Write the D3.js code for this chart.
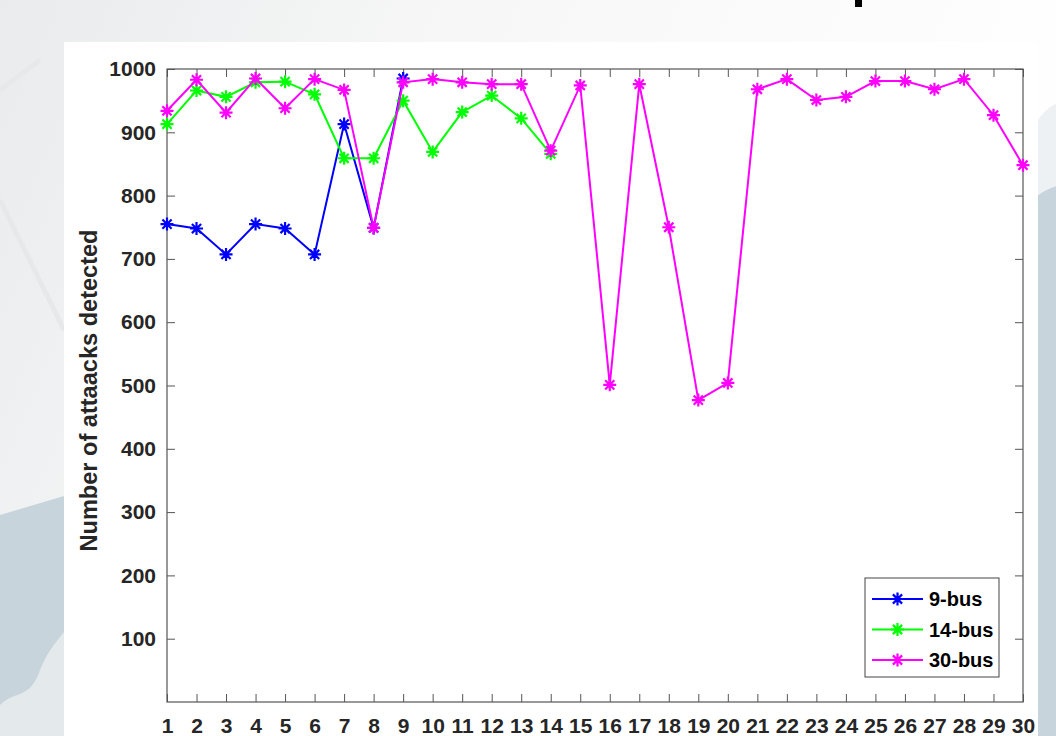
<html>
<head>
    <meta charset="utf-8">
    <script src="https://d3js.org/d3.v7.min.js"></script>
    <title>Attacks detected</title>
    <style>
        body { margin: 0; overflow: hidden; }
        text { font-family: "Liberation Sans", Arial, sans-serif; }
        .axis .domain { stroke: none; }
        .axis line { stroke: #555; }
        .axis text { font-weight: bold; fill: #262626; }
    </style>
</head>
<body>
<svg id="svg1"></svg>
<script>
    // data
    const runs = [1, 2, 3, 4, 5, 6, 7, 8, 9, 10, 11, 12, 13, 14, 15,
                  16, 17, 18, 19, 20, 21, 22, 23, 24, 25, 26, 27, 28, 29, 30];
    const yTicks = [100, 200, 300, 400, 500, 600, 700, 800, 900, 1000];
    const seriesNames = ["9-bus", "14-bus", "30-bus"];
    const seriesColors = ["#0000ff", "#00ff00", "#ff00ff"];
    const bus9 = [755, 748, 707, 755, 748, 707, 913, 749, 985];
    const bus14 = [913, 966, 956, 979, 980, 960, 859, 859, 950, 869, 932, 958, 922, 866];
    const bus30 = [934, 983, 931, 985, 938, 984, 967, 749, 979, 984, 979, 976, 976, 871, 974,
                   501, 976, 750, 477, 504, 968, 984, 951, 956, 981, 981, 968, 984, 927, 848];
    const yLabel = "Number of attaacks detected";

    const width = 1056, height = 736;
    let svg1 = d3.select("svg#svg1")
                 .attr("width", width)
                 .attr("height", height);

    // slide background
    let defs = svg1.append("defs");
    let grad = defs.append("linearGradient").attr("id", "bgGrad")
                   .attr("x1", 0).attr("y1", 0).attr("x2", 1).attr("y2", 0.3);
    grad.append("stop").attr("offset", "0%").attr("stop-color", "#e9ebec");
    grad.append("stop").attr("offset", "40%").attr("stop-color", "#f7f7f7");
    grad.append("stop").attr("offset", "100%").attr("stop-color", "#ffffff");

    let bg = svg1.append("g").attr("id", "background");
    bg.append("rect").attr("width", width).attr("height", height).attr("fill", "url(#bgGrad)");
    bg.append("path").attr("d", "M0,200 L64,330 M0,90 L40,60")
      .attr("stroke", "#e6e8ea").attr("stroke-width", 5).attr("fill", "none");
    bg.append("path").attr("d", "M0,515 L64,496 L64,736 L0,736 Z").attr("fill", "#c8d4dc");
    bg.append("path").attr("d", "M0,705 C15,690 30,700 40,670 C48,650 58,640 64,632 L64,736 L0,736 Z")
      .attr("fill", "#e4e9ec");
    bg.append("path").attr("d", "M1038,195 C1045,190 1050,188 1056,186 L1056,736 L1038,736 Z")
      .attr("fill", "#c8d4dc");
    bg.append("path").attr("d", "M1038,120 C1045,110 1052,105 1056,104 L1056,186 C1050,188 1045,190 1038,195 Z")
      .attr("fill", "#eef1f3");
    // white panel of the figure
    bg.append("rect").attr("x", 64).attr("y", 42).attr("width", 974).attr("height", 694)
      .attr("fill", "#ffffff");
    // descender of the cut-off title above the figure
    bg.append("rect").attr("x", 855).attr("y", 0).attr("width", 7).attr("height", 7).attr("fill", "#000");

    const margins = {top: 69, right: 33, bottom: 34, left: 167};
    const chartWidth = width - margins.left - margins.right;
    const chartHeight = height - margins.top - margins.bottom;

    const scaleX = d3.scaleLinear().domain([1, 30]).range([0, chartWidth]);
    const scaleY = d3.scaleLinear().domain([0, 1000]).range([chartHeight, 0]);

    let annotations = svg1.append("g").attr("id", "annotations")
                          .attr("transform", `translate(${margins.left}, ${margins.top})`);

    // axes with inward ticks (box on)
    annotations.append("g").attr("class", "y axis")
               .call(d3.axisLeft(scaleY).tickValues(yTicks).tickSizeInner(-8).tickSizeOuter(0)
                       .tickPadding(11).tickFormat(d3.format("d")))
               .selectAll("text").style("font-size", "21px");
    annotations.append("g").attr("class", "y axis")
               .attr("transform", `translate(${chartWidth}, 0)`)
               .call(d3.axisRight(scaleY).tickValues(yTicks).tickSizeInner(-8).tickSizeOuter(0).tickFormat(""));
    annotations.append("g").attr("class", "x axis")
               .attr("transform", `translate(0, ${chartHeight})`)
               .call(d3.axisBottom(scaleX).tickValues(runs).tickSizeInner(-8).tickSizeOuter(0)
                       .tickPadding(16).tickFormat(d3.format("d")))
               .selectAll("text").style("font-size", "21px");
    annotations.append("g").attr("class", "x axis")
               .call(d3.axisTop(scaleX).tickValues(runs).tickSizeInner(-8).tickSizeOuter(0).tickFormat(""));
    annotations.append("rect")
               .attr("width", chartWidth).attr("height", chartHeight)
               .attr("fill", "none").attr("stroke", "#555").attr("stroke-width", 1.2);

    // y label
    svg1.append("text")
        .attr("transform", `translate(97, ${margins.top + chartHeight / 2 + 5}) rotate(-90)`)
        .attr("text-anchor", "middle")
        .attr("textLength", 322).attr("lengthAdjust", "spacingAndGlyphs")
        .style("font-size", "23px").style("font-weight", "bold").style("fill", "#262626")
        .text(yLabel);

    // series
    const starPath = "M-6.5,0H6.5M0,-6.5V6.5M-4.6,-4.6L4.6,4.6M-4.6,4.6L4.6,-4.6";
    const allSeries = [bus9, bus14, bus30].map((vals, i) => ({
        name: seriesNames[i],
        color: seriesColors[i],
        values: vals.map((v, j) => ({x: runs[j], y: v}))
    }));

    let lineGen = d3.line()
                    .x(d => scaleX(d.x))
                    .y(d => scaleY(d.y));

    let chartArea = annotations.append("g").attr("id", "lines");
    let gTags = chartArea.selectAll("g.series")
                         .data(allSeries)
                         .join("g")
                         .attr("class", "series")
                         .style("stroke", d => d.color);
    gTags.append("path")
         .attr("fill", "none")
         .attr("stroke-width", 2)
         .attr("d", d => lineGen(d.values));
    gTags.selectAll("path.marker")
         .data(d => d.values)
         .join("path")
         .attr("class", "marker")
         .attr("fill", "none")
         .attr("stroke-width", 2.2)
         .attr("transform", d => `translate(${scaleX(d.x)}, ${scaleY(d.y)})`)
         .attr("d", starPath);

    // legend
    let legend = svg1.append("g").attr("id", "legend").attr("transform", "translate(865, 578)");
    legend.append("rect").attr("width", 134).attr("height", 99)
          .attr("fill", "#ffffff").attr("stroke", "#444").attr("stroke-width", 1);
    let items = legend.selectAll("g.item")
                      .data(allSeries)
                      .join("g")
                      .attr("class", "item")
                      .attr("transform", (d, i) => `translate(0, ${21 + i * 30.5})`);
    items.append("line").attr("x1", 7).attr("x2", 58)
         .attr("stroke", d => d.color).attr("stroke-width", 2);
    items.append("path").attr("d", starPath).attr("transform", "translate(32.5, 0)")
         .attr("fill", "none").attr("stroke", d => d.color).attr("stroke-width", 2.2);
    items.append("text").attr("x", 64).attr("dy", "0.36em")
         .style("font-size", "20px").style("font-weight", "bold").style("fill", "#000")
         .text(d => d.name);
</script>
</body>
</html>
